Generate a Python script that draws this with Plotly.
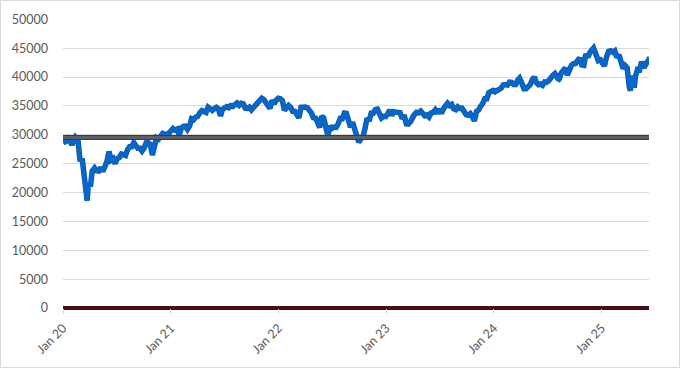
import plotly.graph_objects as go

dates = [
"2020-01-02","2020-01-10","2020-01-17","2020-01-24","2020-01-31","2020-02-07","2020-02-12","2020-02-21","2020-02-28",
"2020-03-06","2020-03-13","2020-03-20","2020-03-23","2020-03-27","2020-04-03","2020-04-09","2020-04-17","2020-04-24",
"2020-05-01","2020-05-08","2020-05-15","2020-05-22","2020-05-29","2020-06-05","2020-06-12","2020-06-19","2020-06-26",
"2020-07-02","2020-07-10","2020-07-17","2020-07-24","2020-07-31","2020-08-07","2020-08-14","2020-08-21","2020-08-28",
"2020-09-04","2020-09-11","2020-09-18","2020-09-25","2020-10-02","2020-10-09","2020-10-16","2020-10-23","2020-10-30",
"2020-11-06","2020-11-13","2020-11-20","2020-11-27","2020-12-04","2020-12-11","2020-12-18","2020-12-24","2020-12-31",
"2021-01-08","2021-01-15","2021-01-22","2021-01-29","2021-02-05","2021-02-12","2021-02-19","2021-02-26","2021-03-05",
"2021-03-12","2021-03-19","2021-03-26","2021-04-01","2021-04-09","2021-04-16","2021-04-23","2021-04-30","2021-05-07",
"2021-05-14","2021-05-21","2021-05-28","2021-06-04","2021-06-11","2021-06-18","2021-06-25","2021-07-02","2021-07-09",
"2021-07-16","2021-07-23","2021-07-30","2021-08-06","2021-08-13","2021-08-20","2021-08-27","2021-09-03","2021-09-10",
"2021-09-17","2021-09-24","2021-10-01","2021-10-08","2021-10-15","2021-10-22","2021-10-29","2021-11-05","2021-11-12",
"2021-11-19","2021-11-26","2021-12-03","2021-12-10","2021-12-17","2021-12-23","2021-12-31",
"2022-01-07","2022-01-14","2022-01-21","2022-01-28","2022-02-04","2022-02-11","2022-02-18","2022-02-25","2022-03-04",
"2022-03-11","2022-03-18","2022-03-25","2022-04-01","2022-04-08","2022-04-14","2022-04-22","2022-04-29","2022-05-06",
"2022-05-13","2022-05-20","2022-05-27","2022-06-03","2022-06-10","2022-06-17","2022-06-24","2022-07-01","2022-07-08",
"2022-07-15","2022-07-22","2022-07-29","2022-08-05","2022-08-12","2022-08-19","2022-08-26","2022-09-02","2022-09-09",
"2022-09-16","2022-09-23","2022-09-30","2022-10-07","2022-10-14","2022-10-21","2022-10-28","2022-11-04","2022-11-11",
"2022-11-18","2022-11-25","2022-12-02","2022-12-09","2022-12-16","2022-12-23","2022-12-30",
"2023-01-06","2023-01-13","2023-01-20","2023-01-27","2023-02-03","2023-02-10","2023-02-17","2023-02-24","2023-03-03",
"2023-03-10","2023-03-17","2023-03-24","2023-03-31","2023-04-06","2023-04-14","2023-04-21","2023-04-28","2023-05-05",
"2023-05-12","2023-05-19","2023-05-26","2023-06-02","2023-06-09","2023-06-16","2023-06-23","2023-06-30","2023-07-07",
"2023-07-14","2023-07-21","2023-07-28","2023-08-04","2023-08-11","2023-08-18","2023-08-25","2023-09-01","2023-09-08",
"2023-09-15","2023-09-22","2023-09-29","2023-10-06","2023-10-13","2023-10-20","2023-10-27","2023-11-03","2023-11-10",
"2023-11-17","2023-11-24","2023-12-01","2023-12-08","2023-12-15","2023-12-22","2023-12-29",
"2024-01-05","2024-01-12","2024-01-19","2024-01-26","2024-02-02","2024-02-09","2024-02-16","2024-02-23","2024-03-01",
"2024-03-08","2024-03-15","2024-03-22","2024-03-28","2024-04-05","2024-04-12","2024-04-19","2024-04-26","2024-05-03",
"2024-05-10","2024-05-17","2024-05-24","2024-05-31","2024-06-07","2024-06-14","2024-06-21","2024-06-28","2024-07-05",
"2024-07-12","2024-07-19","2024-07-26","2024-08-02","2024-08-09","2024-08-16","2024-08-23","2024-08-30","2024-09-06",
"2024-09-13","2024-09-20","2024-09-27","2024-10-04","2024-10-11","2024-10-18","2024-10-25","2024-11-01","2024-11-08",
"2024-11-15","2024-11-22","2024-11-29","2024-12-04","2024-12-13","2024-12-20","2024-12-27","2024-12-31",
"2025-01-03","2025-01-10","2025-01-17","2025-01-24","2025-01-31","2025-02-07","2025-02-14","2025-02-21","2025-02-28",
"2025-03-07","2025-03-14","2025-03-21","2025-03-28","2025-04-04","2025-04-08","2025-04-11","2025-04-17","2025-04-21",
"2025-04-25","2025-05-02","2025-05-09","2025-05-16","2025-05-23","2025-05-30","2025-06-06","2025-06-10",
]

index_values = [
28634,28824,29348,28990,28256,29103,29551,28992,25409,
25865,23186,19174,18592,21637,21053,23719,24242,23775,
23724,24331,23685,24465,25383,27111,25606,25871,25016,
25827,26075,26672,26470,26428,27433,27931,27930,28654,
28133,27666,27657,27174,27683,28587,28606,28336,26502,
28323,29480,29263,29910,30218,30046,30179,30200,30606,
31098,30814,30997,29983,31148,31458,31494,30932,31496,
32779,32628,33073,33153,33801,34200,34043,33875,34778,
34382,34208,34529,34756,34480,33290,34433,34786,34870,
34688,35062,34935,35209,35515,35120,35456,35369,34608,
34584,34798,34326,34746,35295,35677,35820,36328,36100,
35602,34899,34580,35971,35365,35950,36338,
36232,35912,34265,34725,35089,34738,34079,34059,33615,
32945,34755,34862,34818,34721,34451,33811,32977,32899,
32197,31262,33213,32900,31393,29889,31501,31097,31338,
31288,31899,32845,32803,33761,33707,32283,31318,32151,
30822,29590,28725,29297,29635,31083,32862,32403,33748,
33746,34347,34430,33477,32920,33204,33147,
33631,34303,33375,33978,33926,33869,33827,32817,33391,
31910,31862,32238,33274,33485,33886,33809,34098,33674,
33301,33427,33093,33763,33877,34299,33727,34408,33734,
34509,35228,35459,35066,35281,34500,34346,34838,34577,
34618,33964,33508,33407,33670,33127,32418,34061,34283,
34947,35390,36245,36248,37306,37385,37690,
37466,37593,37863,38109,38654,38672,38628,39131,39087,
38723,38715,39476,39807,38904,37983,37986,38240,38676,
39513,40004,39070,38686,38799,38589,39150,39119,39376,
40001,40288,40590,39737,39498,40660,41175,41563,40345,
41394,42063,42313,42353,42864,43275,42114,42052,43989,
43445,44297,44911,45014,43828,42840,42992,42544,
42732,41938,43488,44424,44545,44303,44546,43428,43841,
42802,41488,41985,41584,38315,37646,40213,39142,38170,
40114,41317,41249,42655,41603,42270,42763,42400,
]

reference_level = [29551, 29551]
span_dates = ["2020-01-01", "2025-06-10"]

y_ticks = [0, 5000, 10000, 15000, 20000, 25000, 30000, 35000, 40000, 45000, 50000]
x_ticks = ["2020-01-01", "2021-01-01", "2022-01-01", "2023-01-01", "2024-01-01", "2025-01-01"]
x_tick_labels = ["Jan 20", "Jan 21", "Jan 22", "Jan 23", "Jan 24", "Jan 25"]

fig = go.Figure()
fig.add_trace(go.Scatter(x=dates, y=index_values, mode="lines",
                         line=dict(color="#14559e", width=5.5), hoverinfo="skip", showlegend=False))
fig.add_trace(go.Scatter(x=dates, y=index_values, mode="lines",
                         line=dict(color="#0668cc", width=3.8), showlegend=False))
fig.add_trace(go.Scatter(x=span_dates, y=reference_level, mode="lines",
                         line=dict(color="#3a3a3a", width=5), hoverinfo="skip", showlegend=False))
fig.add_trace(go.Scatter(x=span_dates, y=reference_level, mode="lines",
                         line=dict(color="#5e5e5e", width=3), showlegend=False))

W, H = 681, 369
ml, mr, mt, mb = 63, 32, 19, 61
pw, ph = W - ml - mr, H - mt - mb

fig.update_layout(
    width=W, height=H,
    margin=dict(l=ml, r=mr, t=mt, b=mb, pad=0),
    paper_bgcolor="white", plot_bgcolor="white",
    font=dict(family="Lato, Open Sans, sans-serif", size=12, color="#595959"),
    xaxis=dict(type="date", range=span_dates, tickvals=x_ticks, ticktext=x_tick_labels,
               tickangle=-45, showgrid=False, zeroline=False, showline=False,
               ticks="outside", ticklen=5, tickcolor="#d9d9d9", ticklabelstandoff=2,
               tickfont=dict(size=12.5, color="#595959")),
    yaxis=dict(range=[0, 50060], tickvals=y_ticks, tickformat="d", showgrid=True,
               gridcolor="#d9d9d9", gridwidth=1, showline=False,
               zeroline=True, zerolinecolor="#4a0a16", zerolinewidth=3.5,
               ticks="", ticklabelstandoff=14, tickfont=dict(size=12.5, color="#595959")),
    shapes=[dict(type="rect", xref="paper", yref="paper",
                 x0=-(ml - 0.5) / pw, x1=1 + (mr - 1.5) / pw,
                 y0=-(mb - 1.5) / ph, y1=1 + (mt - 0.5) / ph,
                 line=dict(color="#d9d9d9", width=1), layer="below")],
)

fig.write_html("out.html", config={"displayModeBar": False},
               post_script="document.body.style.margin='0';document.body.style.overflow='hidden';")
